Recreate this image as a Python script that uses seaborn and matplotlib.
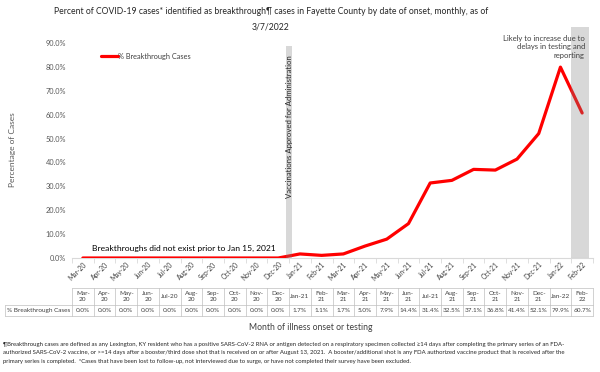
import matplotlib
matplotlib.use("Agg")
import matplotlib.pyplot as plt
import matplotlib.transforms as mtransforms
import seaborn as sns
import pandas as pd

months = ["Mar-20", "Apr-20", "May-20", "Jun-20", "Jul-20", "Aug-20", "Sep-20", "Oct-20",
          "Nov-20", "Dec-20", "Jan-21", "Feb-21", "Mar-21", "Apr-21", "May-21", "Jun-21",
          "Jul-21", "Aug-21", "Sep-21", "Oct-21", "Nov-21", "Dec-21", "Jan-22", "Feb-22"]
table_headers = ["Mar-\n20", "Apr-\n20", "May-\n20", "Jun-\n20", "Jul-20", "Aug-\n20", "Sep-\n20",
                 "Oct-\n20", "Nov-\n20", "Dec-\n20", "Jan-21", "Feb-\n21", "Mar-\n21", "Apr-\n21",
                 "May-\n21", "Jun-\n21", "Jul-21", "Aug-\n21", "Sep-\n21", "Oct-\n21", "Nov-\n21",
                 "Dec-\n21", "Jan-22", "Feb-\n22"]
breakthrough_pct = [0.0, 0.0, 0.0, 0.0, 0.0, 0.0, 0.0, 0.0, 0.0, 0.0, 1.7, 1.1, 1.7, 5.0,
                    7.9, 14.4, 31.4, 32.5, 37.1, 36.8, 41.4, 52.1, 79.9, 60.7]
series_name = "% Breakthrough Cases"
y_ticks = [0, 10, 20, 30, 40, 50, 60, 70, 80, 90]

sns.set_theme(style="white")
plt.rcParams["font.family"] = ["Lato", "DejaVu Sans"]

W, H = 600, 372
fig = plt.figure(figsize=(6.0, 3.72), dpi=100)
ax = fig.add_axes([72 / W, (H - 258) / H, (593 - 72) / W, (258 - 43) / H])

def fy(px):
    return 1 - px / H

def fx(px):
    return px / W

df = pd.DataFrame({"Month": months, "Pct": breakthrough_pct})
sns.lineplot(data=df, x="Month", y="Pct", ax=ax, color="#ff0000", linewidth=2.3,
             sort=False, zorder=3, legend=False)

n = len(months)
ax.set_xlim(-0.5, n - 0.5)
ax.set_ylim(0, 90)
ax.set_yticks(y_ticks)
ax.set_yticklabels([f"{v:.1f}%" for v in y_ticks], fontsize=5.3, color="#595959")
ax.tick_params(axis="y", length=0, pad=4)
ax.set_xticks(range(n))
ax.set_xticklabels(months, rotation=45, ha="right", va="top", rotation_mode="anchor",
                   fontsize=4.8, color="#404040")
offset = mtransforms.ScaledTranslation(4 / 100, -3 / 100, fig.dpi_scale_trans)
for lab in ax.get_xticklabels():
    lab.set_transform(lab.get_transform() + offset)
ax.tick_params(axis="x", length=0, pad=2)
ax.set_xticks([i - 0.5 for i in range(n + 1)], minor=True)
ax.tick_params(axis="x", which="minor", length=3.5, color="#d9d9d9", width=0.6, bottom=True)
for s in ["left", "right", "top"]:
    ax.spines[s].set_visible(False)
ax.spines["bottom"].set_color("#d9d9d9")
ax.spines["bottom"].set_linewidth(0.8)
ax.set_xlabel("")
ax.set_ylabel("")

# shaded bands (drawn over line, semi-transparent)
vacc_idx = months.index("Jan-21") - 0.5
ax.add_patch(plt.Rectangle((vacc_idx - 0.14, 0), 0.28, 88.7, color="#808080", alpha=0.3,
                           lw=0, zorder=4))
last_idx = n - 1
ax.add_patch(plt.Rectangle((last_idx - 0.5, 0), 0.82, 96.7, color="#808080", alpha=0.3,
                           lw=0, zorder=4, clip_on=False))

ax.text(vacc_idx, 85, "Vaccinations Approved for Administration", rotation=90, ha="center",
        va="top", fontsize=5.6, color="#262626", zorder=5)
ax.text(0.4, 2.6, "Breakthroughs did not exist prior to Jan 15, 2021", ha="left", va="bottom",
        fontsize=6.1, color="#000000", zorder=5)

# legend
fig.add_artist(plt.Line2D([fx(101), fx(118)], [fy(56), fy(56)], color="#ff0000", lw=2.3))
fig.text(fx(118.5), fy(56), series_name, fontsize=5.3, color="#404040", va="center", ha="left")

# right annotation
fig.text(fx(585), fy(35), "Likely to increase due to\ndelays in testing and\nreporting",
         ha="right", va="top", fontsize=5.5, color="#404040", linespacing=1.25)

# title
fig.text(fx(271), fy(7), "Percent of COVID-19 cases* identified as breakthrough¶ cases in Fayette County by date of onset, monthly, as of\n3/7/2022",
         ha="center", va="top", fontsize=6.2, color="#262626", linespacing=1.9)

# y-label
fig.text(fx(13), fy(150), "Percentage of Cases", rotation=90, ha="center", va="center",
         fontsize=6.0, color="#595959")

# data table
blend = mtransforms.blended_transform_factory(ax.transData, fig.transFigure)
top, mid, bot = fy(288), fy(305), fy(316)
lc = "#bfbfbf"
fig.add_artist(plt.Line2D([-0.5, n - 0.5], [top, top], transform=blend, color=lc, lw=0.5))
fig.add_artist(plt.Line2D([fx(5), fx(593)], [mid, mid], color=lc, lw=0.5))
fig.add_artist(plt.Line2D([fx(5), fx(593)], [bot, bot], color=lc, lw=0.5))
fig.add_artist(plt.Line2D([fx(5), fx(5)], [mid, bot], color=lc, lw=0.5))
for i in range(n + 1):
    fig.add_artist(plt.Line2D([i - 0.5, i - 0.5], [top, bot], transform=blend, color=lc, lw=0.5))
for i, (hdr, v) in enumerate(zip(table_headers, breakthrough_pct)):
    fig.text(i, (top + mid) / 2, hdr, transform=blend, ha="center", va="center",
             fontsize=4.6, color="#404040", linespacing=1.1)
    fig.text(i, (mid + bot) / 2, f"{v:.1f}%", transform=blend, ha="center", va="center",
             fontsize=4.6, color="#404040")
fig.text(fx(7), (mid + bot) / 2, series_name, ha="left", va="center", fontsize=4.6,
         color="#404040")

# x-axis title
fig.text(fx(311), fy(327), "Month of illness onset or testing", ha="center", va="center",
         fontsize=6.2, color="#404040")

# footnote
foot = ("¶Breakthrough cases are defined as any Lexington, KY resident who has a positive SARS-CoV-2 RNA or antigen detected on a respiratory specimen collected ≥14 days after completing the primary series of an FDA-\n"
        "authorized SARS-CoV-2 vaccine, or >=14 days after a booster/third dose shot that is received on or after August 13, 2021.  A booster/additional shot is any FDA authorized vaccine product that is received after the\n"
        "primary series is completed.  *Cases that have been lost to follow-up, not interviewed due to surge, or have not completed their survey have been excluded.")
fig.text(fx(3), fy(342), foot, ha="left", va="top", fontsize=4.3, color="#262626", linespacing=1.85)

fig.savefig("out.png", dpi=100)
